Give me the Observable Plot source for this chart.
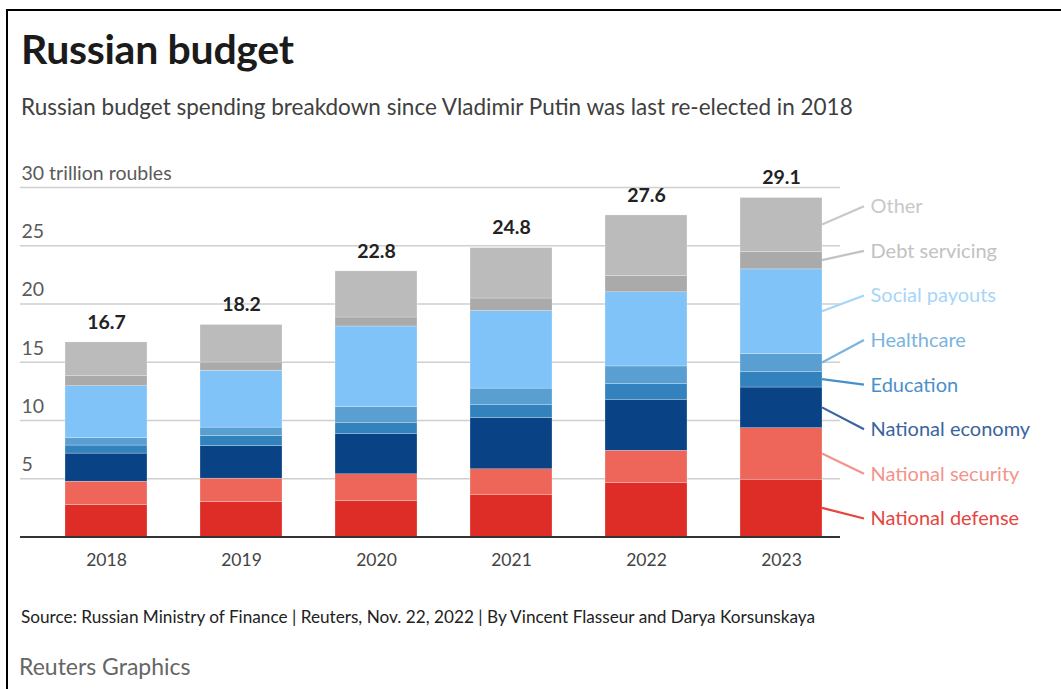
<!DOCTYPE html>
<html><head><meta charset="utf-8">
<script src="https://cdn.jsdelivr.net/npm/d3@7"></script>
<script src="https://cdn.jsdelivr.net/npm/@observablehq/plot@0.6"></script>
<style>
html,body{margin:0;padding:0;background:#fff;}
body{width:1061px;height:689px;position:relative;overflow:hidden;font-family:Lato,"Open Sans",sans-serif;}
#frame{position:absolute;left:6px;top:9px;right:-10px;bottom:-10px;border-top:2px solid #000;border-left:2px solid #000;}
.t{position:absolute;white-space:nowrap;}
#title{left:21px;top:27px;font-size:41px;line-height:44px;font-weight:700;color:#1b1b1b;letter-spacing:-0.3px;}
#subtitle{left:21px;top:94px;font-size:22.5px;line-height:26px;color:#404040;}
#source{left:21px;top:607px;font-size:17.2px;line-height:20px;color:#222;}
#brand{left:19px;top:653px;font-size:23px;line-height:26px;color:#666;}
#chart{position:absolute;left:0;top:150px;}
</style>
</head><body>
<div id="frame"></div>
<div class="t" id="title">Russian budget</div>
<div class="t" id="subtitle">Russian budget spending breakdown since Vladimir Putin was last re-elected in 2018</div>
<div id="chart"></div>
<div class="t" id="source">Source: Russian Ministry of Finance | Reuters, Nov. 22, 2022 | By Vincent Flasseur and Darya Korsunskaya</div>
<div class="t" id="brand">Reuters Graphics</div>
<script>
// ---- data (trillion roubles) ----
const years = ["2018", "2019", "2020", "2021", "2022", "2023"];
const categories = ["National defense", "National security", "National economy", "Education", "Healthcare", "Social payouts", "Debt servicing", "Other"];
const defense    = [2.75, 3.01, 3.09, 3.58, 4.65, 4.92];
const security   = [2.00, 2.00, 2.29, 2.23, 2.75, 4.42];
const economy    = [2.41, 2.81, 3.44, 4.41, 4.38, 3.49];
const education  = [0.69, 0.86, 0.95, 1.09, 1.37, 1.35];
const healthcare = [0.63, 0.71, 1.40, 1.43, 1.49, 1.52];
const social     = [4.46, 4.87, 6.90, 6.65, 6.36, 7.27];
const debt       = [0.86, 0.72, 0.77, 1.08, 1.40, 1.51];
const other      = [2.90, 3.22, 3.96, 4.33, 5.20, 4.62];
const totals     = [16.7, 18.2, 22.8, 24.8, 27.6, 29.1];
const yTicks      = [5, 10, 15, 20, 25, 30];
const yTickLabels = ["5", "10", "15", "20", "25", "30 trillion roubles"];

// ---- styles ----
const barColors   = ["#de2c26", "#ee665a", "#0a4385", "#3282bd", "#5a9fd2", "#80c3f8", "#aaaaaa", "#bbbbbb"];
const labelColors = ["#e5453e", "#f3948b", "#3a64a0", "#4a90c8", "#7ab4e0", "#a6d5fa", "#c2c2c2", "#c8c8c8"];

const series = [defense, security, economy, education, healthcare, social, debt, other];
const rows = [];
years.forEach((yr, j) => {
  categories.forEach((c, i) => rows.push({year: yr, category: c, value: series[i][j]}));
});

// label layout: evenly spaced alongside the last bar
const last = years.length - 1;
const lastYear = years[last];
const mids = [];
let acc = 0;
series.forEach(s => { mids.push(acc + s[last] / 2); acc += s[last]; });
const labelLo = 1.55, labelHi = 28.35;
const labelY = categories.map((c, i) => labelLo + i * (labelHi - labelLo) / (categories.length - 1));

function leaders(index, scales) {
  const x = scales.x, y = scales.y;
  const x0 = x(lastYear) + x.bandwidth();
  const g = d3.create("svg:g");
  categories.forEach((c, i) => {
    g.append("line")
      .attr("x1", x0).attr("y1", y(mids[i]))
      .attr("x2", x0 + 42).attr("y2", y(labelY[i]))
      .attr("stroke", labelColors[i]).attr("stroke-width", 2.2);
  });
  return g.node();
}

const plot = Plot.plot({
  width: 1061,
  height: 420,
  marginLeft: 20,
  marginRight: 221,
  marginTop: 37,
  marginBottom: 33.5,
  style: {fontFamily: "Lato, 'Open Sans', sans-serif", fontSize: "17.5px", color: "#444", background: "transparent"},
  x: {domain: years, paddingInner: 0.393, paddingOuter: 0.233, align: 0.71, tickSize: 0, tickPadding: 17, label: null},
  y: {domain: [0, 30], axis: null},
  color: {domain: categories, range: barColors},
  marks: [
    Plot.ruleY(yTicks, {stroke: "#cfcfcf", strokeWidth: 1.5}),
    Plot.text(yTicks, {y: d => d, text: (d, i) => yTickLabels[i], frameAnchor: "left", textAnchor: "start", dx: 1, dy: -14, fill: "#5a5a5a", fontSize: 19.5}),
    Plot.barY(rows, {x: "year", y: "value", fill: "category", stroke: "#fff", strokeWidth: 0.4, strokeOpacity: 0.6}),
    Plot.ruleY([0], {stroke: "#333", strokeWidth: 2}),
    Plot.text(years, {x: d => d, y: (d, i) => totals[i], text: (d, i) => totals[i].toFixed(1), dy: -20, fontWeight: 700, fontSize: 19.5, fill: "#222"}),
    leaders,
    Plot.text(categories, {x: () => lastYear, y: (d, i) => labelY[i], text: d => d, dx: 89, textAnchor: "start", fill: (d, i) => labelColors[i], fontSize: 20})
  ]
});
document.getElementById("chart").appendChild(plot);
</script>
</body></html>
